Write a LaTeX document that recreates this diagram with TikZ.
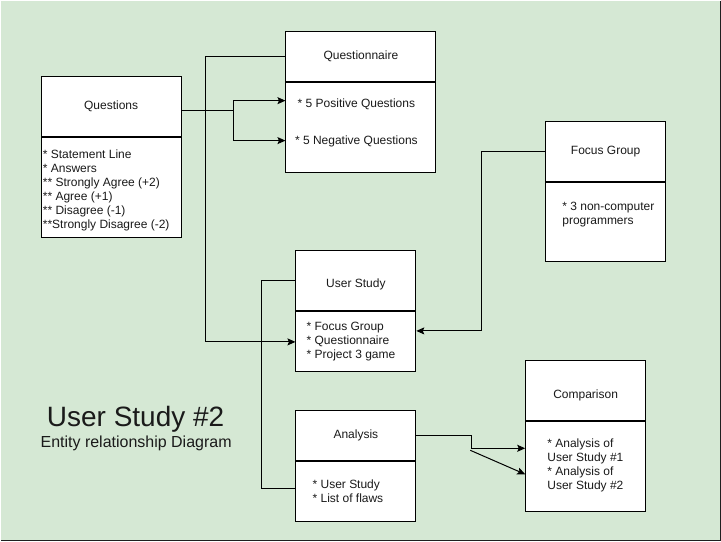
\documentclass[tikz,border=0pt]{standalone}
\usepackage{fontspec}
\setmainfont{Liberation Sans}
\usetikzlibrary{arrows.meta,calc,positioning}
\definecolor{ink}{HTML}{000000}
\definecolor{txt}{HTML}{1A1A1A}
\definecolor{sheet}{HTML}{D5E8D4}
\definecolor{rim}{HTML}{1F1F1F}
\newcommand{\boxfont}{\fontsize{12}{14}\selectfont}
\newcommand{\dropby}[2]{\raisebox{-#1}[\height][\depth]{#2}}
\tikzset{
    >={Stealth[length=8pt,width=7pt,inset=1.5pt]},
    entity/.style={draw=ink, fill=white, line width=1pt, inner sep=0pt,
                   anchor=north west, font=\boxfont, text=txt},
    body text/.style={font=\boxfont, text=txt, align=left, inner sep=0pt,
                      anchor=north west},
    link/.style={ink, line width=1pt},
    flowlink/.style={link, ->},
    title/.style={font=\fontsize{28}{32}\selectfont, text=txt, inner sep=0pt, anchor=base},
    subtitle/.style={font=\fontsize{16}{19}\selectfont, text=txt, inner sep=0pt, anchor=base},
}

\begin{document}
\begin{tikzpicture}[x=1pt, y=-1pt]

% ---------------------------------------------------------------------------
% Sheet
% ---------------------------------------------------------------------------
\fill[sheet] (0,0) rectangle (721,541);
\draw[rim, line width=1.5pt] (720.25,0) -- (720.25,540.25) -- (0,540.25);
\useasboundingbox (0,0) rectangle (721,541);

% ---------------------------------------------------------------------------
% Entities
% ---------------------------------------------------------------------------
\node[entity, minimum width=140pt, minimum height=60pt] (questHead) at (40,75) {Questions};
\node[entity, minimum width=140pt, minimum height=100pt] (questBody) at (questHead.south west) {};
\node[body text] (questText) at (42,149.5)
    {* Statement Line\\
     * Answers\\
     ** Strongly Agree (+2)\\
     ** Agree (+1)\\
     ** Disagree (-1)\\
     **Strongly Disagree (-2)};

\node[entity, minimum width=150pt, minimum height=50pt] (qnHead) at (285,30) {Questionnaire};
\node[entity, minimum width=150pt, minimum height=90pt] (qnBody) at (qnHead.south west) {};
\node[font=\boxfont, text=txt, inner sep=0pt] (posText) at (356,103.5) {* 5 Positive Questions};
\node[font=\boxfont, text=txt, inner sep=0pt] (negText) at (356,141) {* 5 Negative Questions};

\node[entity, minimum width=120pt, minimum height=60pt] (fgHead) at (545,120) {Focus Group};
\node[entity, minimum width=120pt, minimum height=80pt] (fgBody) at (fgHead.south west) {};
\node[body text] (fgText) at (562,201) {* 3 non-computer\\programmers};

\node[entity, minimum width=120pt, minimum height=60pt] (usHead) at (295,250) {\dropby{3pt}{User Study}};
\node[entity, minimum width=120pt, minimum height=60pt] (usBody) at (usHead.south west) {};
\node[body text] (usText) at (306,322)
    {* Focus Group\\
     * Questionnaire\\
     * Project 3 game};

\node[entity, minimum width=120pt, minimum height=50pt] (anHead) at (295,410) {Analysis};
\node[entity, minimum width=120pt, minimum height=60pt] (anBody) at (anHead.south west) {};
\node[body text] (anText) at (312,479.5) {* User Study\\* List of flaws};

\node[entity, minimum width=120pt, minimum height=60pt] (cmpHead) at (525,360) {\dropby{5pt}{Comparison}};
\node[entity, minimum width=120pt, minimum height=90pt] (cmpBody) at (cmpHead.south west) {};
\node[body text] (cmpText) at (547,438.5)
    {* Analysis of\\
     User Study \#1\\
     * Analysis of\\
     User Study \#2};

% ---------------------------------------------------------------------------
% Title
% ---------------------------------------------------------------------------
\node[title] (diagTitle) at (135,426) {User Study \#2};
\node[subtitle] (diagSub) at (135.5,447) {Entity relationship Diagram};

% ---------------------------------------------------------------------------
% Connectors
% ---------------------------------------------------------------------------
\coordinate (qSplit) at (233,110);
\draw[link] (questHead.east |- qSplit) -- (qSplit);
\draw[flowlink] (qSplit) |- ([yshift=3.5pt]qnBody.west |- posText);
\draw[flowlink] (qSplit) |- ([yshift=1pt]qnBody.west |- negText);

\draw[flowlink] (qnHead.west) -- ++(-80,0) |- (usBody.west);
\draw[flowlink] (fgHead.west) -- ++(-64,0) |- ([yshift=11pt]usBody.east);
\draw[link] (usHead.west) -- ++(-34,0) |- ([yshift=3pt]anBody.west);

\draw[flowlink] (anHead.east) -- ++(55,0) |- ([yshift=18.5pt]cmpBody.west);
\coordinate (anDiag) at (470,450);
\draw[flowlink] (anDiag) -- ([yshift=-7.5pt]cmpBody.west);

\end{tikzpicture}
\end{document}
